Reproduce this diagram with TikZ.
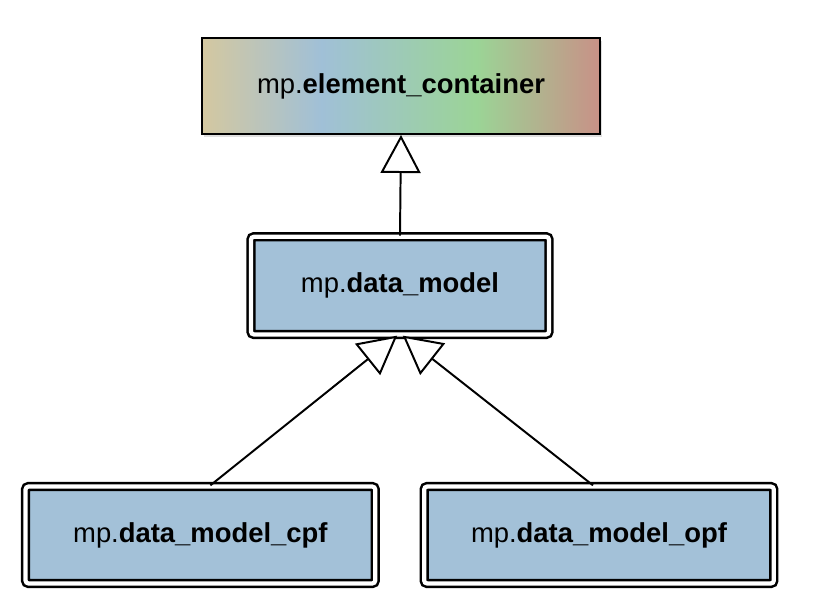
\documentclass[tikz,border=0pt]{standalone}
\usepackage{fontspec}
\setmainfont{Liberation Sans}
\usepackage{tikz}
\usetikzlibrary{arrows.meta, positioning, shadows}

\definecolor{ectan}{RGB}{212,200,160}
\definecolor{ecblue}{RGB}{160,192,215}
\definecolor{ecgreen}{RGB}{155,212,150}
\definecolor{ecred}{RGB}{200,145,135}
\definecolor{modelblue}{RGB}{163,193,216}

\pgfdeclarehorizontalshading{ecshade}{100bp}{color(0bp)=(ectan); color(25bp)=(ectan); color(40bp)=(ecblue); color(59.5bp)=(ecgreen); color(75bp)=(ecred); color(100bp)=(ecred)}

\begin{document}
\begin{tikzpicture}[
    base/.style={draw, shading=ecshade, line width=1.4pt, minimum width=9.95cm, minimum height=2.4cm, font=\fontsize{19.5}{23}\selectfont, drop shadow={opacity=0.25, shadow xshift=0.04cm, shadow yshift=-0.08cm}},
    model/.style={draw, fill=modelblue, rounded corners=2pt, line width=1.8pt, double=white, double distance=3pt, minimum width=7.45cm, minimum height=2.44cm, font=\fontsize{19.5}{23}\selectfont, drop shadow={opacity=0.25, shadow xshift=0.04cm, shadow yshift=-0.08cm}},
    leaf/.style={model, minimum width=8.74cm, minimum height=2.42cm},
    inh/.style={-{Triangle[length=0.95cm, width=1cm, fill=white]}, line width=1.4pt},
]
\useasboundingbox (0,0) rectangle (20.4,-15.325);

\node[base] (ec) at (10.025,-2.15) {mp.\textbf{element\_container}};
\node[model] (dm) at (10.0,-7.14) {mp.\textbf{data\_model}};
\node[leaf] (cpf) at (5.01,-13.375) {mp.\textbf{data\_model\_cpf}};
\node[leaf] (opf) at (14.975,-13.375) {mp.\textbf{data\_model\_opf}};

\draw[inh] (dm.north) -- (ec.south);
\draw[inh] ([xshift=0.25cm]cpf.north) -- ([xshift=-0.07cm]dm.south);
\draw[inh] ([xshift=-0.15cm]opf.north) -- ([xshift=0.07cm]dm.south);

\end{tikzpicture}
\end{document}
